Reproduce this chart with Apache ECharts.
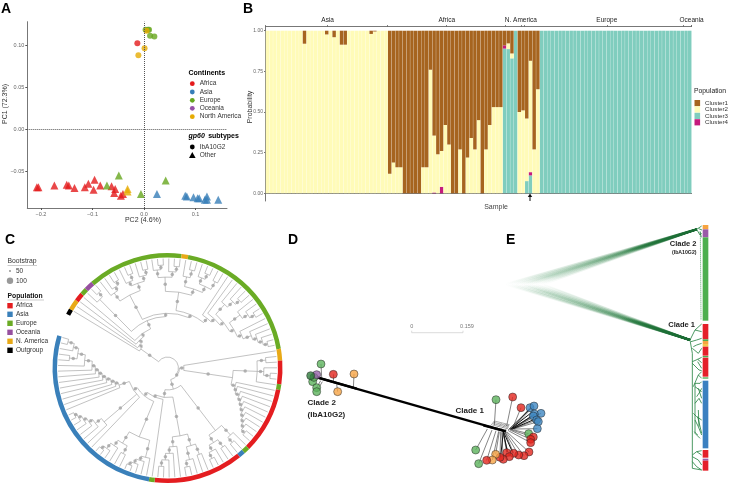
<!DOCTYPE html>
<html>
<head>
<meta charset="utf-8">
<style>html,body{margin:0;padding:0;background:#fff}</style>
<script src="https://cdn.jsdelivr.net/npm/echarts@6/dist/echarts.min.js"></script>
</head>
<body>
<div id="main" style="width:729px;height:486px"></div>
<script>
// panel A, PCA points [PC2, PC1]
const africaTri = [[-.208,-.069],[-.205,-.069],[-.174,-.067],[-.150,-.066],[-.146,-.067],[-.135,-.070],[-.115,-.069],[-.108,-.065],[-.096,-.060],[-.098,-.072],[-.085,-.067],[-.063,-.068],[-.056,-.071],[-.058,-.076],[-.045,-.079],[-.041,-.077]];
const asiaTri = [[.025,-.077],[.080,-.079],[.083,-.080],[.096,-.081],[.104,-.082],[.107,-.082],[.118,-.084],[.122,-.080],[.122,-.084],[.144,-.084]];
const europeTri = [[-.049,-.055],[-.072,-.067],[-.006,-.077],[.042,-.061]];
const namericaTri = [[-.032,-.071],[-.032,-.074]];
const africaDot = [[-.013,.102]];
const europeDot = [[.003,.118],[.0075,.118],[.0097,.118],[.0117,.111],[.02,.110]];
const namericaDot = [[.001,.096],[-.011,.0877],[.005,.117]];

// panel B, one value per sample
const clusterNames = ['Cluster1','Cluster2','Cluster3','Cluster4'];
const cluster1 = [0,0,0,0,0,0,0,0,0,0,.08,0,0,0,0,0,.023,0,.04,0,.086,.086,0,0,0,0,0,0,.02,.005,0,0,0,
  .88,.81,.84,.84,1,1,1,1,1,.84,.84,.24,.645,.76,.74,.58,.70,1,1,.73,1,.78,.66,.73,.55,1,.73,.58,.47,.47,.47,.09,.078,.14,0,.5,.49,.54,.185,.73,.36,
  0,0,0,0,0,0,0,0,0,0,0,0,0,0,0,0,0,0,0,0,0,0,0,0,0,0,0,0,0,0,0,0,0,0,0,0,0,0,0,0,0];
const cluster2 = [1,1,1,1,1,1,1,1,1,1,.92,1,1,1,1,1,.977,1,.96,1,.914,.914,1,1,1,1,1,1,.98,.995,1,1,1,
  .12,.19,.16,.16,0,0,0,0,0,.16,.16,.76,.35,.24,.22,.42,.30,0,0,.27,0,.22,.34,.27,.45,0,.27,.42,.53,.53,.53,0,.035,.03,0,.5,.51,.385,.685,.27,.64,
  0,0,0,0,0,0,0,0,0,0,0,0,0,0,0,0,0,0,0,0,0,0,0,0,0,0,0,0,0,0,0,0,0,0,0,0,0,0,0,0,0];
const cluster3 = [0,0,0,0,0,0,0,0,0,0,0,0,0,0,0,0,0,0,0,0,0,0,0,0,0,0,0,0,0,0,0,0,0,
  0,0,0,0,0,0,0,0,0,0,0,0,0,0,0,0,0,0,0,0,0,0,0,0,0,0,0,0,0,0,0,.89,.887,.83,1,0,0,.075,.11,0,0,
  1,1,1,1,1,1,1,1,1,1,1,1,1,1,1,1,1,1,1,1,1,1,1,1,1,1,1,1,1,1,1,1,1,1,1,1,1,1,1,1,1];
const cluster4 = [0,0,0,0,0,0,0,0,0,0,0,0,0,0,0,0,0,0,0,0,0,0,0,0,0,0,0,0,0,0,0,0,0,
  0,0,0,0,0,0,0,0,0,0,0,0,.005,0,.04,0,0,0,0,0,0,0,0,0,0,0,0,0,0,0,0,.02,0,0,0,0,0,0,.02,0,0,
  0,0,0,0,0,0,0,0,0,0,0,0,0,0,0,0,0,0,0,0,0,0,0,0,0,0,0,0,0,0,0,0,0,0,0,0,0,0,0,0,0];
const regionLabels = ['Asia','Africa','N. America','Europe','Oceania'];
const regionCentres = [16.75,48.9,68.9,92.1,115];
const regionEdges = [0,32.8,64.6,69.7,112.7,115];

// panel C, ring arcs in degrees running clockwise, then the tree as [node radius, ...children], 1 = tip
const ringSpans = [3,5.3,4.3,3.2,4.5,48.6,3.4,69.8,5.9,12,2.9,33.6,3.1,3.1,45.6,2.9,97.2,11.6];
const ringKeys = ['Outgroup','N. America','Africa','Europe','Oceania','Europe','N. America','Europe','N. America','Africa','Europe','Africa','Europe','Asia','Africa','Europe','Asia','gap'];
const cladeP = [.88,1,[.93,1,1]];
const cladeG1 = [.75,[.84,1,[.88,1,[.92,1,1]]],[.82,[.86,1,[.92,1,1]],[.87,1,[.92,1,1]]]];
const cladeG2 = [.70,[.83,[.90,1,[.94,1,1]],[.88,1,[.93,1,1]]],[.76,[.85,1,[.92,1,1]],[.82,[.88,1,[.93,1,1]],[.90,1,1]]]];
const cladeG3 = [.58,1,[.62,1,[.66,[.78,1,[.85,1,[.90,1,1]]],[.70,[.82,1,[.88,1,[.93,1,1]]],[.74,1,[.82,1,[.86,1,[.90,1,[.94,1,1]]]]]]]]];
const cladeEurope = [.47,cladeP,[.50,cladeG1,[.53,cladeG2,cladeG3]]];
const cladeTop = [.30,1,[.33,1,[.36,1,[.39,1,cladeEurope]]]];
const cladeR1 = [.60,[.82,[.90,1,1],[.88,1,[.94,1,1]],1],[.64,1,[.66,1,[.70,1,[.73,1,[.76,1,[.79,1,[.82,1,[.85,1,[.88,1,[.92,1,1]]]]]]]]]]];
const cladeR2 = [.72,[.84,1,[.90,1,1]],[.80,[.88,1,1],[.86,1,[.92,1,1]]]];
const cladeR3 = [.63,[.74,[.84,1,1],[.86,1,[.92,1,1]]],[.72,1,[.78,1,[.84,1,[.90,1,1]]]]];
const cladeA1 = [.68,[.84,1,[.88,1,[.92,1,[.95,1,1]]]],[.80,[.88,1,1],[.86,1,[.92,1,[.95,1,1]]]]];
const cladeA2 = [.76,1,[.83,1,[.87,1,[.90,1,[.93,1,[.95,1,1]]]]]];
const cladeA3 = [.47,1,[.50,1,[.53,1,[.57,1,[.60,1,[.63,1,[.66,1,[.69,1,[.76,1,[.83,[.90,1,1],[.88,1,[.94,1,1]]]]]]]]]]]];
const cladeBottom = [.11,[.15,1,cladeR1],[.20,cladeR2,[.27,cladeR3,[.29,1,[.33,cladeA1,[.37,1,cladeA2,cladeA3]]]]]];
const treeRoot = [.10,cladeTop,cladeBottom];

// panel D, nodes [x, y, group, branch start x, branch start y], read in units of a 780x438 box
const netGroups = ['#5DB35D','#E2261E','#3F87C2','#F6A445','#9763AA','#2F7A3C'];
const netNodes = [
  [93,72,0,95,112],[130,103,1,130,125],[192,102,3,190,147],[143,155,3,140,133],[68,125,0,85,115],[72,112,0,85,113],[80,143,0,92,122],[80,155,0,97,125],[80,104,4,88,112],[62,107,5,82,112],
  [618,179,0,613,255],[668,171,1,650,258],[693,203,1,668,264],
  [720,203,2,668,264],[732,198,2,668,264],[753,220,2,670,264],[733,222,2,670,265],[730,228,2,670,265],[740,240,2,670,266],[745,245,2,672,266],[742,266,2,672,267],
  [716,281,0,665,268],[730,291,1,665,270],[722,298,1,660,270],[722,308,1,655,272],
  [717,336,1,650,275],[702,347,1,648,276],[686,345,1,645,276],[671,340,1,645,277],[650,338,1,640,277],[658,350,1,638,277],[640,358,1,635,277],[630,352,1,632,275],
  [617,343,3,628,275],[607,360,3,626,274],[590,361,1,618,272],[557,330,0,592,267],[566,371,0,606,270]
];
const netMain = [[80,112,640,272],[85,113,200,146],[580,256,648,274]];
const netBundle = [[655,270,722,205],[660,268,728,215],[662,268,733,224],[664,268,738,236],[640,274,652,336],[640,274,632,350],[640,274,668,338]];
const netWeb = [[613,243,658,254],[611,247,657,258],[609,251,656,262],[607,255,654,266],[600,262,650,270],[613,243,598,262],[658,254,645,270],[635,250,620,264],[648,252,632,268]];

// panel E, densitree roots and tips, tree branches and tip bar, read in units of a 687x798 box
const densiRoots = [[15,193],[24,192],[33,194],[40,192],[46,193],[52,195],[57,191],[62,193],[66,194],[70,192],[74,193],[78,195],[82,191],[87,193],[92,194],[98,192],[105,193],[112,194],[120,192],[130,193]];
const densiTips = [[590,28],[570,360]];
const treeEdges = [
  [[590,28],[605,18]],[[590,28],[600,45],[605,40]],[[596,26],[606,30]],[[600,35],[604,52]],
  [[570,360],[577,400],[577,745],[605,750]],
  [[570,360],[585,330],[605,312]],[[585,330],[605,335]],[[573,365],[590,360],[605,355]],[[580,380],[590,375],[605,370]],[[577,385],[595,400],[605,385]],
  [[577,425],[593,418],[605,412]],[[593,418],[605,428]],[[593,425],[605,445]],[[577,430],[597,450],[605,452]],
  [[580,500],[595,465],[605,455]],[[595,465],[605,475]],[[585,490],[600,490],[605,485]],[[585,500],[605,515]],[[595,505],[605,535]],[[590,530],[600,515],[605,505]],
  [[585,550],[597,535],[605,550]],[[580,580],[590,590],[605,600]],[[593,590],[605,640]],[[585,600],[595,620],[605,645]],[[583,635],[593,645]],[[585,490],[585,640],[600,655]],[[595,570],[597,620]],
  [[577,705],[590,695],[605,692]],[[590,695],[605,705]],[[577,710],[595,720],[605,735]],[[577,725],[590,740],[605,750]]
];
const clade2Stem = [[601,35],[603,300]];
const tipBarRows = [[15,28,'o'],[28,52,'p'],[52,302,'g'],[312,358,'r'],[358,363,'g'],[363,372,'o'],[372,380,'y'],[380,407,'r'],[408,412,'g'],[413,470,'r'],[472,476,'g'],[482,685,'b'],[690,713,'r'],[716,722,'p'],[722,752,'r']];
const tipBarColors = {o:'#F7A440',p:'#9A5AA8',g:'#4CAF4F',r:'#E4202A',b:'#3B80C0',y:'#F4C64A'};

const contColors = {Africa:'#E41A1C',Asia:'#377EB8',Europe:'#66A61E',Oceania:'#9650A6','North America':'#E6AB02'};
const clusterColors = ['#A6641F','#FFFBB8','#80CDBE','#C51B7D'];
const ringColors = {Outgroup:'#000','N. America':'#E8A917',Africa:'#E41D20',Europe:'#6AAB25',Oceania:'#97509F',Asia:'#3A80BA',gap:'transparent'};
const FONT = '"Liberation Sans"';

// turn the nested tree into branches
let tipCount = 0;
(function count(n){ n.slice(1).forEach(c => { if (c === 1) tipCount++; else count(c); }); })(treeRoot);
const tipStart = 148.8, tipEnd = -196.2, tipStep = (tipStart - tipEnd) / (tipCount - 1);
const radials = [], arcs = [], treeDots = [];
let tipIdx = 0;
function walk(node, parentR) {
  const r = node[0];
  const angles = node.slice(1).map(c => {
    if (c === 1) {
      const a = tipStart - tipStep * tipIdx++;
      radials.push([r, 1, a]);
      return a;
    }
    return walk(c, r);
  });
  const a1 = angles[0], a2 = angles[angles.length - 1], mid = (a1 + a2) / 2;
  arcs.push([r, a1, a2]);
  if (parentR != null) {
    radials.push([parentR, r, mid]);
    treeDots.push([(parentR + r) / 2, mid]);
  }
  return mid;
}
walk(treeRoot, null);

function txt(text, x, y, size, opt) {
  opt = opt || {};
  return {
    type: 'text', x: x, y: y, rotation: opt.rotation || 0, silent: true, z: 20,
    style: {
      text: text, x: 0, y: 0, fill: opt.fill || '#222', align: opt.align || 'left', verticalAlign: 'middle',
      font: (opt.bold ? 'bold ' : '') + size + 'px ' + FONT
    }
  };
}
function rule(x1, y1, x2, y2, color, w) {
  return { type: 'line', silent: true, z: 20, shape: {x1:x1,y1:y1,x2:x2,y2:y2}, style: {stroke: color, lineWidth: w} };
}

const graphics = [
  txt('A',1,9,14,{bold:true,fill:'#000'}), txt('B',243,9,14,{bold:true,fill:'#000'}),
  txt('C',5,240,14,{bold:true,fill:'#000'}), txt('D',288,240,14,{bold:true,fill:'#000'}), txt('E',506,240,14,{bold:true,fill:'#000'}),
  txt('PC1 (72.3%)',5.5,104,7,{rotation:Math.PI/2,align:'center',fill:'#333'}),
  txt('PC2 (4.6%)',143,220,7,{align:'center',fill:'#333'}),
  txt('Continents',188.5,73.5,7,{bold:true,fill:'#000'}),
  txt('Probability',250,107,7,{rotation:Math.PI/2,align:'center',fill:'#333'}),
  txt('Sample',496,207,7,{align:'center',fill:'#444'}),
  txt('Population',694,91.5,6.8),
  txt('Bootstrap',7.5,261.5,6.8,{fill:'#333'}), rule(7.5,265.5,37,265.5,'#999',.5),
  {type:'circle',silent:true,z:20,shape:{cx:10,cy:271,r:.9},style:{fill:'#888'}}, txt('50',16,271.5,6.5,{fill:'#333'}),
  {type:'circle',silent:true,z:20,shape:{cx:10,cy:280.7,r:3.2},style:{fill:'#999'}}, txt('100',16,281,6.5,{fill:'#333'}),
  txt('Population',7.5,296,6.8,{bold:true,fill:'#111'}), rule(7.5,300,44,300,'#999',.5),
  txt('Clade 2',307.5,403,8,{bold:true}), txt('(IbA10G2)',307.5,415,8,{bold:true}), txt('Clade 1',455.5,411,8,{bold:true}),
  txt('Clade 2',696.5,243.5,7.5,{bold:true,align:'right'}), txt('(IbA10G2)',696.5,253,5.2,{bold:true,align:'right'}), txt('Clade 1',695,324.5,7.5,{bold:true,align:'right'}),
  txt('0',411.7,326,5.5,{fill:'#777',align:'center'}), txt('0.159',467,326,5.5,{fill:'#777',align:'center'}),
  rule(411.7,332.7,463,332.7,'#ccc',.7), rule(411.7,330.7,411.7,332.7,'#ccc',.7), rule(463,330.7,463,332.7,'#ccc',.7),
  rule(530,195,530,201,'#111',1),
  {type:'polygon',silent:true,z:20,shape:{points:[[530,193.5],[527.8,197],[532.2,197]]},style:{fill:'#111'}},
  {type:'circle',silent:true,z:20,shape:{cx:192.3,cy:147,r:2.4},style:{fill:'#000'}}, txt('IbA10G2',199.7,147,6.5,{fill:'#333'}),
  {type:'polygon',silent:true,z:20,shape:{points:[[192.3,152],[189,158],[195.6,158]]},style:{fill:'#000'}}, txt('Other',199.7,155.5,6.5,{fill:'#333'}),
  {
    type:'text',x:188.5,y:136,silent:true,z:20,
    style:{text:'{i|gp60} {b|subtypes}',x:0,y:0,verticalAlign:'middle',rich:{
      i:{font:'italic bold 7px '+FONT,fill:'#000'},b:{font:'bold 7px '+FONT,fill:'#000'}}}
  }
];
Object.keys(contColors).forEach((k,i) => {
  const y = [83.7,92,100.3,108.3,116.7][i];
  graphics.push({type:'circle',silent:true,z:20,shape:{cx:192.3,cy:y,r:2.4},style:{fill:contColors[k]}});
  graphics.push(txt(k,199.7,y,6.5,{fill:'#333'}));
});
clusterNames.forEach((k,i) => {
  graphics.push({type:'rect',silent:true,z:20,shape:{x:694.5,y:100+i*6.4,width:5.6,height:6.2},style:{fill:clusterColors[i]}});
  graphics.push(txt(k,705,103+i*6.4,6.2,{fill:'#333'}));
});
['Africa','Asia','Europe','Oceania','N. America','Outgroup'].forEach((k,i) => {
  const y = [305.7,314.3,323.3,332.3,341.3,350.3][i];
  graphics.push({type:'rect',silent:true,z:20,shape:{x:7.3,y:y-2.7,width:5.4,height:5.4},style:{fill:ringColors[k]}});
  graphics.push(txt(k,16,y,6.5,{fill:'#333'}));
});

const pointSeries = (data, color, symbol, size, extra) => Object.assign({
  type:'scatter', xAxisIndex:0, yAxisIndex:0, data:data, symbol:symbol, symbolSize:size,
  itemStyle:{color:color}, silent:true
}, extra || {});

const minusFmt = d => v => (v < 0 ? '\u2212' : '') + Math.abs(v).toFixed(d);
const axisA = {
  axisLine:{show:true,onZero:false,lineStyle:{color:'#777',width:1}},
  splitLine:{show:false}
};

const segs = list => list.map(e => ({coords:[[e[0],e[1]],[e[2],e[3]]]}));
const netLines = netNodes.map(n => ({coords:[[n[3],n[4]],[n[0],n[1]]]}));
const densiData = [];
densiTips.forEach(t => densiRoots.forEach(r => densiData.push([r[0],r[1],t[0],t[1]])));

const option = {
  animation:false, backgroundColor:'#fff', tooltip:{show:false},
  textStyle:{fontFamily:FONT},
  graphic:{elements:graphics},
  grid:[
    {left:27.3,top:21.7,width:199.7,height:186.3},
    {left:265.6,top:26.7,width:426,height:174.3},
    {left:290,top:340,width:260,height:146},
    {left:500,top:220,width:229,height:266}
  ],
  polar:{center:[167.5,368],radius:[0,109.5]},
  angleAxis:{min:-200,max:160,startAngle:160,clockwise:false,show:false},
  radiusAxis:{min:0,max:1,show:false},
  xAxis:[
    Object.assign({gridIndex:0,type:'value',min:-.2266,max:.161,
      axisTick:{show:true,length:2,lineStyle:{color:'#555'},customValues:[-.2,-.1,0,.1]},
      axisLabel:{color:'#666',fontSize:5.5,margin:3,customValues:[-.2,-.1,0,.1],formatter:minusFmt(1)}},axisA),
    {gridIndex:1,type:'category',data:cluster1.map((_,i)=>'S'+(i+1)),axisLine:{lineStyle:{color:'#777',width:1}},axisTick:{show:false},axisLabel:{show:false}},
    {gridIndex:1,type:'value',position:'top',min:0,max:115,splitLine:{show:false},
      axisLine:{show:true,onZero:false,lineStyle:{color:'#777',width:1}},
      axisTick:{show:true,length:1.5,lineStyle:{color:'#666'},customValues:regionEdges.concat(regionCentres)},
      axisLabel:{color:'#222',fontSize:6.5,margin:2.5,customValues:regionCentres,formatter:v=>regionLabels[regionCentres.indexOf(v)]}},
    {gridIndex:2,type:'value',min:0,max:780,show:false},
    {gridIndex:3,type:'value',min:0,max:687,show:false}
  ],
  yAxis:[
    Object.assign({gridIndex:0,type:'value',min:-.0937,max:.1277,
      axisTick:{show:true,length:2,lineStyle:{color:'#555'},customValues:[-.05,0,.05,.1]},
      axisLabel:{color:'#666',fontSize:5.5,margin:3,customValues:[-.05,0,.05,.1],formatter:minusFmt(2)}},axisA),
    {gridIndex:1,type:'value',min:-.0474,max:1.0246,splitLine:{show:false},
      axisLine:{show:true,onZero:false,lineStyle:{color:'#777',width:1}},
      axisTick:{show:true,length:1.5,lineStyle:{color:'#666'},customValues:[0,.25,.5,.75,1]},
      axisLabel:{color:'#666',fontSize:5,margin:2.5,customValues:[0,.25,.5,.75,1],formatter:v=>v.toFixed(2)}},
    {gridIndex:2,type:'value',min:0,max:438,inverse:true,show:false},
    {gridIndex:3,type:'value',min:0,max:798,inverse:true,show:false}
  ],
  series:[
    pointSeries(africaDot,contColors.Africa,'circle',6,{markLine:{silent:true,symbol:'none',label:{show:false},
      lineStyle:{type:'dotted',color:'#555',width:1},data:[{xAxis:0},{yAxis:0}]}}),
    pointSeries(africaTri,contColors.Africa,'triangle',8),
    pointSeries(asiaTri,contColors.Asia,'triangle',8),
    pointSeries(europeDot,contColors.Europe,'circle',6),
    pointSeries(europeTri,contColors.Europe,'triangle',8),
    pointSeries(namericaDot,contColors['North America'],'circle',6),
    pointSeries(namericaTri,contColors['North America'],'triangle',8),

    // stacked from the bottom up: cluster 3, 4, 2, 1
    ...[[2,cluster3],[3,cluster4],[1,cluster2],[0,cluster1]].map(p => ({
      type:'bar',name:clusterNames[p[0]],xAxisIndex:1,yAxisIndex:1,stack:'probability',data:p[1],
      barCategoryGap:'7%',itemStyle:{color:clusterColors[p[0]]},silent:true
    })),

    // ring and tree
    {type:'pie',center:[167.5,368],radius:[110.5,115],startAngle:151.8,clockwise:true,silent:true,label:{show:false},labelLine:{show:false},
      data:ringSpans.map((v,i)=>({value:v,name:ringKeys[i]+i,itemStyle:{color:ringColors[ringKeys[i]]}}))},
    {type:'custom',coordinateSystem:'polar',silent:true,data:radials,encode:{radius:0,angle:2},
      renderItem:(params,api) => {
        const p0 = api.coord([api.value(0),api.value(2)]), p1 = api.coord([api.value(1),api.value(2)]);
        return {type:'line',shape:{x1:p0[0],y1:p0[1],x2:p1[0],y2:p1[1]},style:{stroke:'#999',lineWidth:.6,fill:null}};
      }},
    {type:'custom',coordinateSystem:'polar',silent:true,data:arcs,encode:{radius:0,angle:1},
      renderItem:(params,api) => {
        const c = api.coord([0,0]), p = api.coord([api.value(0),0]);
        const rad = Math.hypot(p[0]-c[0],p[1]-c[1]);
        return {type:'arc',shape:{cx:c[0],cy:c[1],r:rad,startAngle:-api.value(1)*Math.PI/180,endAngle:-api.value(2)*Math.PI/180,clockwise:true},
          style:{stroke:'#999',lineWidth:.6,fill:null}};
      }},
    {type:'scatter',coordinateSystem:'polar',silent:true,data:treeDots,symbolSize:3.5,itemStyle:{color:'#a3a3a3'}},

    // network
    {type:'lines',coordinateSystem:'cartesian2d',xAxisIndex:3,yAxisIndex:2,silent:true,data:segs(netWeb),lineStyle:{color:'#888',width:.7,opacity:1}},
    {type:'lines',coordinateSystem:'cartesian2d',xAxisIndex:3,yAxisIndex:2,silent:true,data:netLines,lineStyle:{color:'#333',width:.6,opacity:1}},
    {type:'lines',coordinateSystem:'cartesian2d',xAxisIndex:3,yAxisIndex:2,silent:true,data:segs(netBundle),lineStyle:{color:'#111',width:1,opacity:1}},
    {type:'lines',coordinateSystem:'cartesian2d',xAxisIndex:3,yAxisIndex:2,silent:true,data:segs(netMain),lineStyle:{color:'#000',width:2.2,opacity:1}},
    {type:'scatter',xAxisIndex:3,yAxisIndex:2,silent:true,symbolSize:8,
      data:netNodes.map(n=>({value:[n[0],n[1]],itemStyle:{color:netGroups[n[2]],borderColor:'#222',borderWidth:.6}}))},
    {type:'custom',coordinateSystem:'cartesian2d',xAxisIndex:4,yAxisIndex:3,silent:true,data:densiData,encode:{x:0,y:1},clip:false,
      renderItem:(params,api) => {
        const a = api.coord([api.value(0),api.value(1)]), b = api.coord([api.value(2),api.value(3)]);
        const grad = new echarts.graphic.LinearGradient(a[0],a[1],b[0],b[1],[
          {offset:0,color:'rgba(45,135,75,0)'},{offset:.15,color:'rgba(45,135,75,.07)'},{offset:.6,color:'rgba(35,120,60,.14)'},{offset:1,color:'rgba(25,105,50,.55)'}
        ],true);
        return {type:'line',shape:{x1:a[0],y1:a[1],x2:b[0],y2:b[1]},style:{stroke:grad,lineWidth:2,fill:null}};
      }},
    {type:'lines',coordinateSystem:'cartesian2d',xAxisIndex:4,yAxisIndex:3,polyline:true,silent:true,data:treeEdges.map(c=>({coords:c})),lineStyle:{color:'#1F7F3C',width:.8,opacity:1}},
    {type:'lines',coordinateSystem:'cartesian2d',xAxisIndex:4,yAxisIndex:3,polyline:true,silent:true,data:[{coords:clade2Stem}],lineStyle:{color:'#2C8A48',width:.8,type:[1,1],opacity:1}},
    {type:'custom',coordinateSystem:'cartesian2d',xAxisIndex:4,yAxisIndex:3,silent:true,data:tipBarRows.map(r=>[r[0],r[1]]),encode:{y:0},
      renderItem:(params,api) => {
        const a = api.coord([608,api.value(0)]), b = api.coord([625,api.value(1)]);
        return {type:'rect',shape:{x:a[0],y:a[1],width:b[0]-a[0],height:b[1]-a[1]},style:{fill:tipBarColors[tipBarRows[params.dataIndex][2]]}};
      }}
  ]
};
echarts.init(document.getElementById('main')).setOption(option);
</script>
</body>
</html>
